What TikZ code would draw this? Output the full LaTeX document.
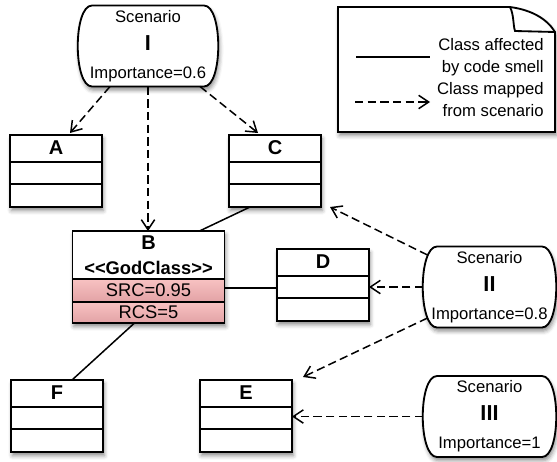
\documentclass[tikz,border=0pt]{standalone}
\usepackage{fontspec}
\setmainfont{Liberation Sans}
\usetikzlibrary{shapes,arrows.meta,shadows,shadows.blur}
\definecolor{pinktop}{RGB}{248,194,194}
\definecolor{pinkbot}{RGB}{226,162,165}

\begin{document}
\begin{tikzpicture}[x=0.6pt,y=-0.6pt,
  font=\fontsize{10}{12}\selectfont,
  boxshadow/.style={blur shadow={shadow xshift=0.8pt,shadow yshift=-2.2pt,shadow blur radius=2.4pt,shadow opacity=45}},
  classbox/.style={draw,line width=1.1pt,fill=white,inner sep=0pt,outer sep=0pt,
    minimum width=55.2pt,minimum height=43.2pt,boxshadow},
  classname/.style={font=\fontsize{12}{14}\selectfont\bfseries,inner sep=0pt},
  attr/.style={font=\fontsize{11}{13}\selectfont,inner sep=0pt},
  scenariobox/.style={rectangle,inner sep=0pt,outer sep=0pt,minimum height=48.6pt},
  scenariotext/.style={align=center,inner sep=0pt,font=\fontsize{10}{16.8}\selectfont},
  scenarioline/.style={line width=1.1pt,fill=white,boxshadow},
  smell/.style={line width=0.9pt},
  mapped/.style={line width=0.9pt,dash pattern=on 5pt off 2.6pt,
    -{Straight Barb[length=6pt,width=8pt]}},
]
  \useasboundingbox (0,0) rectangle (557,461);

  % legend
  \draw[line width=1.1pt,fill=white,boxshadow] (338,7) -- (510,7)
    .. controls (532,10) and (547,19) .. (555,32) -- (555,132) -- (338,132) -- cycle;
  \draw[line width=1.1pt] (510,7) .. controls (514,15) and (513,25) .. (515,31) -- (555,32);
  \coordinate (ls-a) at (356,57);
  \coordinate (ls-b) at (430,57);
  \coordinate (lm-a) at (355,102);
  \coordinate (lm-b) at (430,102);
  \draw[smell] (ls-a) -- (ls-b);
  \draw[mapped] (lm-a) -- (lm-b);
  \node[anchor=east,align=right,inner sep=0pt,font=\fontsize{10}{13.2}\selectfont]
    (lg-smell) at (544,57) {Class affected\\by code smell};
  \node[anchor=east,align=right,inner sep=0pt,font=\fontsize{10}{13.2}\selectfont]
    (lg-map) at (544,100) {Class mapped\\from scenario};

  % scenarios
  \node[scenariobox,minimum width=84pt] (sI) at (148,46) {};
  \node[scenariobox,minimum width=79.8pt] (sII) at (489.5,287) {};
  \node[scenariobox,minimum width=79.8pt] (sIII) at (489.5,416.5) {};
  \foreach \s in {sI,sII,sIII}
    \draw[scenarioline] ([shift={(14,0)}]\s.north west) -- ([shift={(-14,0)}]\s.north east)
      .. controls ([shift={(5,0)}]\s.north east) and ([shift={(5,0)}]\s.south east) .. ([shift={(-14,0)}]\s.south east)
      -- ([shift={(14,0)}]\s.south west)
      .. controls ([shift={(-5,0)}]\s.south west) and ([shift={(-5,0)}]\s.north west) .. cycle;
  \node[scenariotext] (sI-text) at (sI)
    {Scenario\\{\fontsize{13}{16.8}\selectfont\bfseries I}\\Importance=0.6};
  \node[scenariotext] (sII-text) at (sII)
    {Scenario\\{\fontsize{13}{16.8}\selectfont\bfseries II}\\Importance=0.8};
  \node[scenariotext] (sIII-text) at (sIII)
    {Scenario\\{\fontsize{13}{16.8}\selectfont\bfseries III}\\Importance=1};

  % plain classes
  \foreach \name/\pos in {A/{56,171},C/{275,171},D/{323,285},F/{57,416},E/{246,416}}{
    \node[classbox] (\name) at (\pos) {};
    \draw[line width=1.1pt] ([shift={(0,27)}]\name.north west) -- ([shift={(0,27)}]\name.north east);
    \draw[line width=1.1pt] ([shift={(0,49)}]\name.north west) -- ([shift={(0,49)}]\name.north east);
    \node[classname] (\name-title) at ([shift={(0,13)}]\name.north) {\name};
  }

  % the god class
  \node[classbox,minimum width=91.2pt,minimum height=55.2pt] (B) at (148.5,277) {};
  \fill[top color=pinktop,bottom color=pinkbot] ([shift={(0,48)}]B.north west) rectangle ([shift={(0,71)}]B.north east);
  \fill[top color=pinktop,bottom color=pinkbot] ([shift={(0,71)}]B.north west) rectangle (B.south east);
  \draw[line width=1.1pt] ([shift={(0,48)}]B.north west) -- ([shift={(0,48)}]B.north east);
  \draw[line width=1.1pt] ([shift={(0,71)}]B.north west) -- ([shift={(0,71)}]B.north east);
  \draw[line width=1.1pt] (B.north west) rectangle (B.south east);
  \node[classname] (B-title) at ([shift={(0,12)}]B.north) {B};
  \node[attr,font=\fontsize{11}{13}\selectfont\bfseries] (B-type) at ([shift={(0,37)}]B.north) {<\kern0pt<GodClass>\kern0pt>};
  \node[attr] (B-src) at ([shift={(0,59.5)}]B.north) {SRC=0.95};
  \node[attr] (B-rcs) at ([shift={(0,81.5)}]B.north) {RCS=5};

  % code smell links
  \draw[smell] ([shift={(-25,0)}]C.south) -- ([shift={(51,0)}]B.north);
  \coordinate (bd) at ([shift={(0,11)}]B.east);
  \draw[smell] (bd) -- (bd -| D.west);
  \draw[smell] ([shift={(-14,0)}]B.south) -- ([shift={(15,0)}]F.north);

  % scenario mappings
  \draw[mapped] ([shift={(-38,0)}]sI.south) -- ([shift={(14,-2)}]A.north);
  \draw[mapped] (sI.south) -- (sI.south |- B.north);
  \draw[mapped] ([shift={(52,0)}]sI.south) -- ([shift={(-17,-2)}]C.north);
  \draw[mapped] ([shift={(-62,-32)}]sII.center) -- ([shift={(9,0)}]C.south east);
  \draw[mapped] (sII.west) -- (sII.west -| D.east);
  \draw[mapped] ([shift={(-62,31)}]sII.center) -- ([shift={(11,-3)}]E.north east);
  \draw[mapped] (sIII.west) -- (sIII.west -| E.east);
\end{tikzpicture}
\end{document}
